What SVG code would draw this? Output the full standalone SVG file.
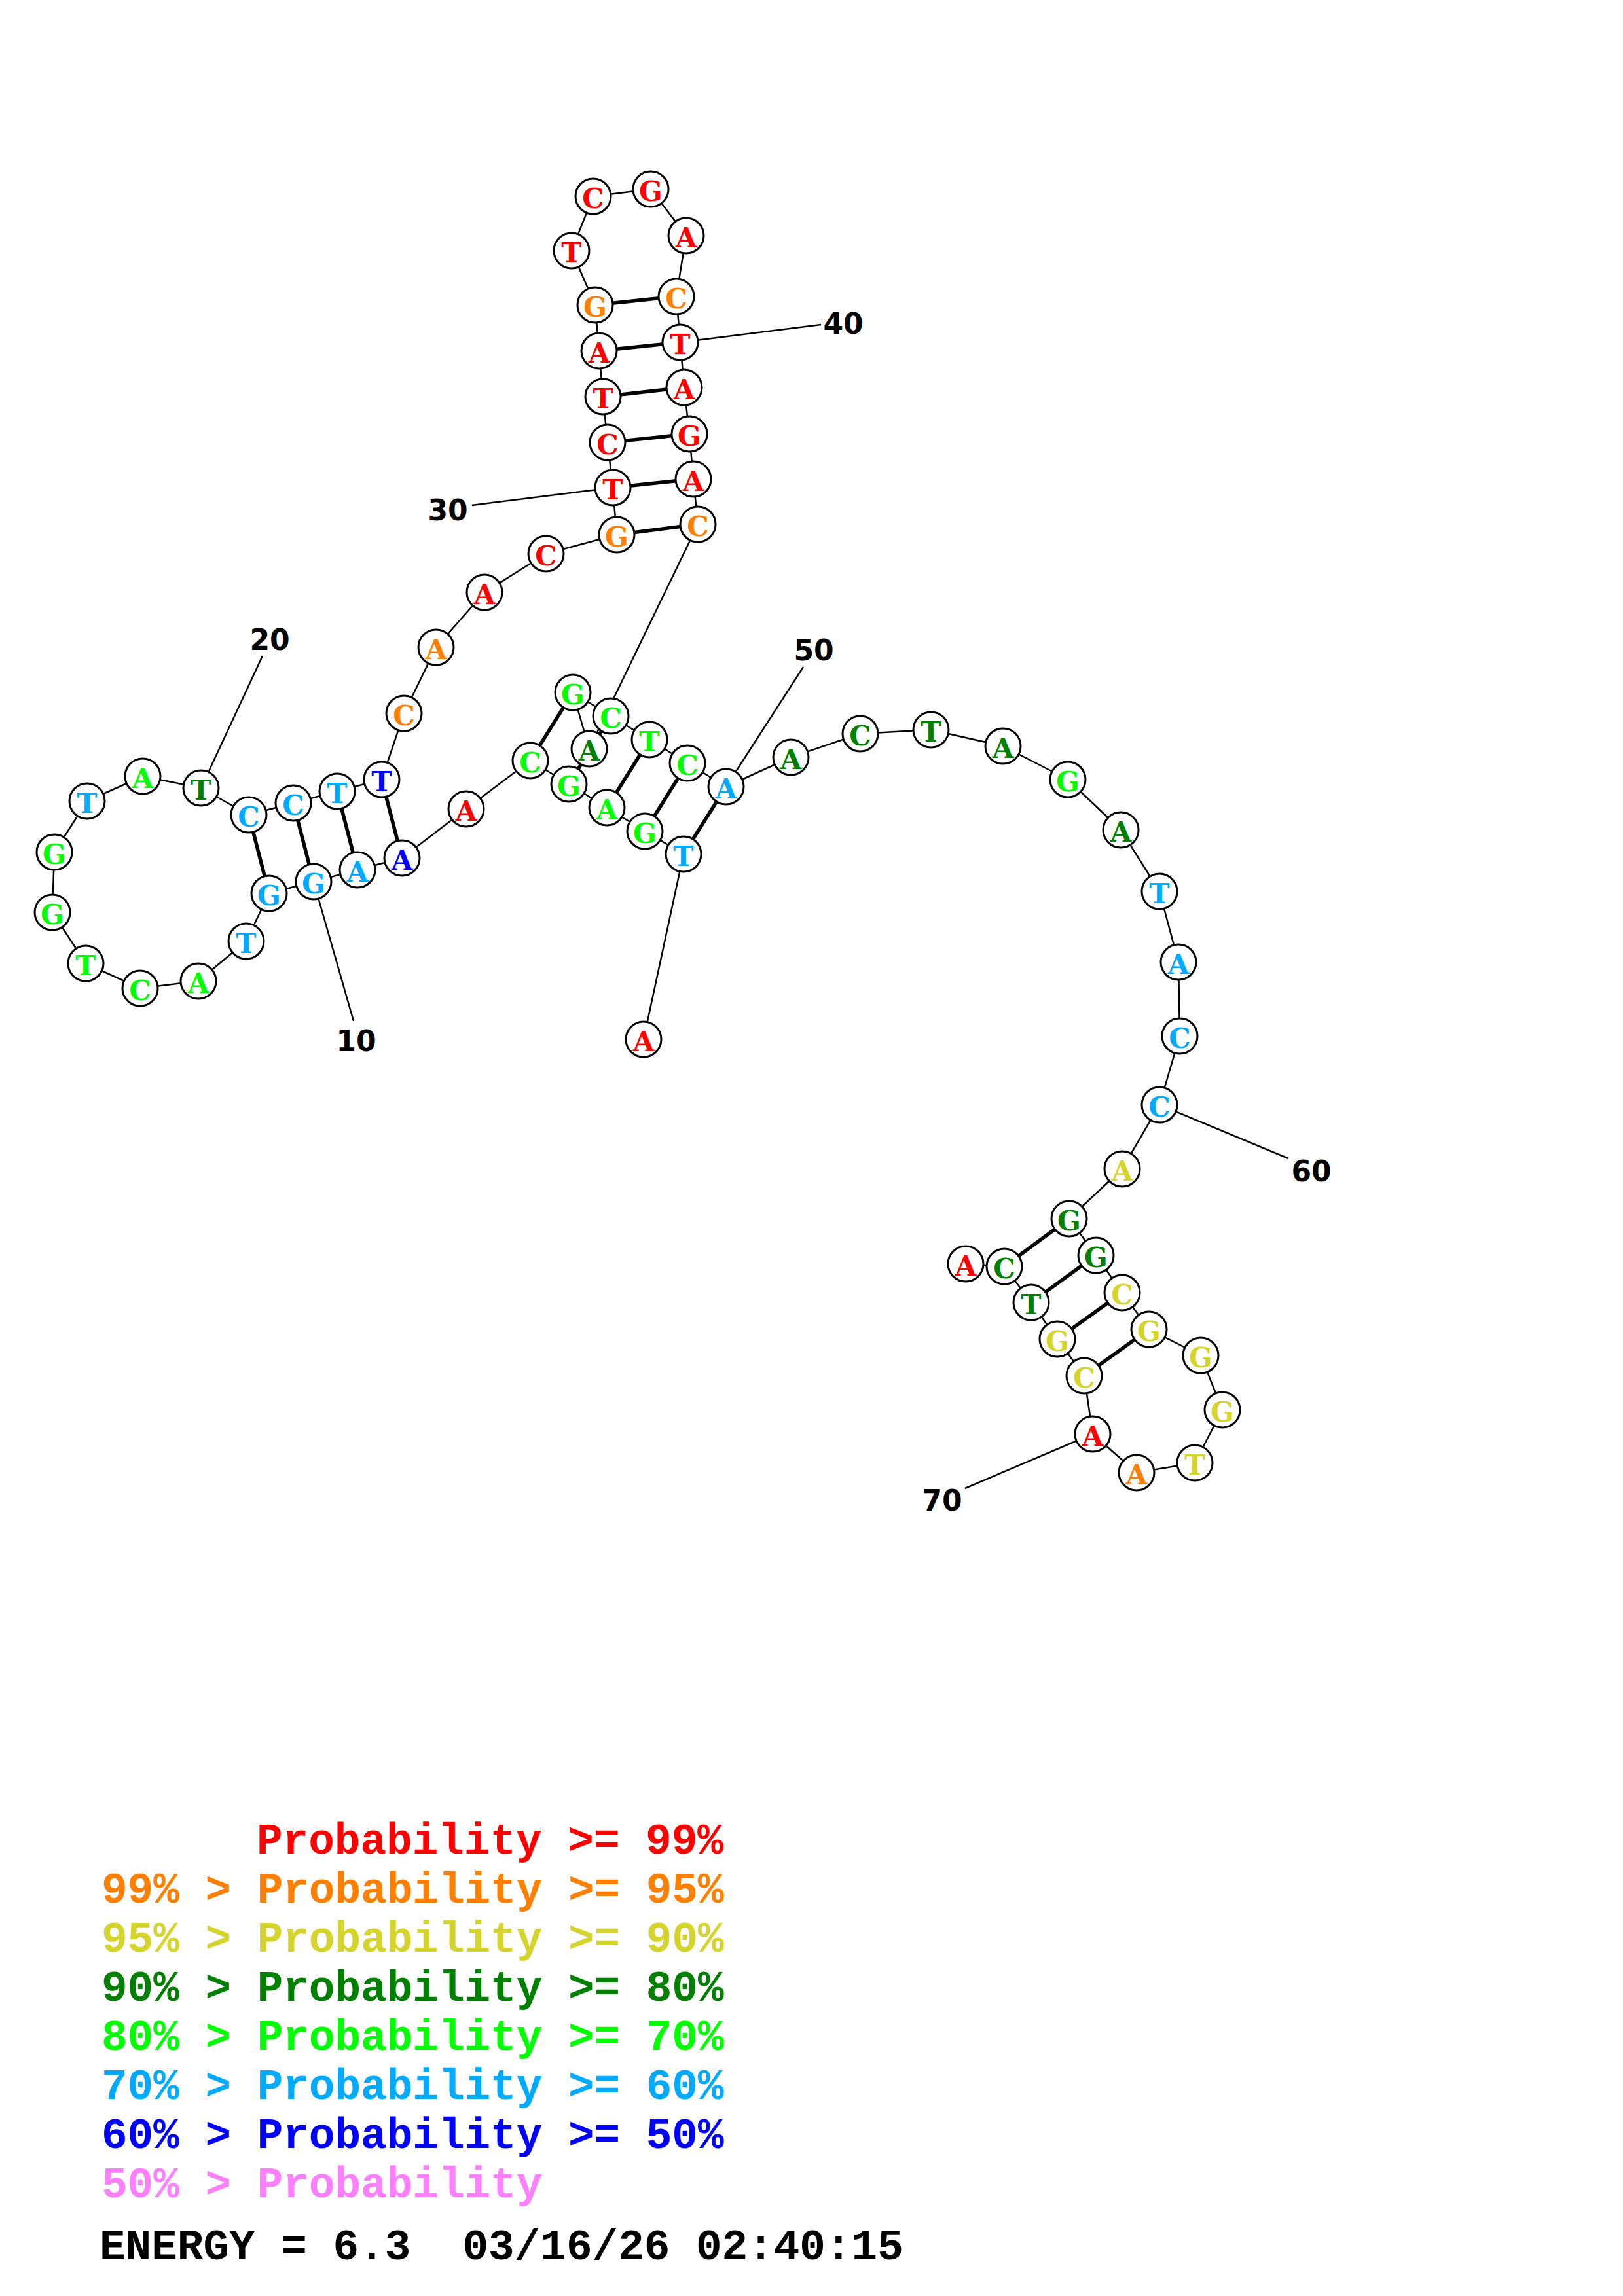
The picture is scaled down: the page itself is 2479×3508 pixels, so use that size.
<svg xmlns="http://www.w3.org/2000/svg" width="2479" height="3508" viewBox="0 0 2479 3508">
<style>
.bb{stroke:#000;stroke-width:2.5;fill:none}
.bp{stroke:#000;stroke-width:5.5;fill:none}
.lb{stroke:#000;stroke-width:2.5;fill:none}
circle{fill:#fff;stroke:#000;stroke-width:3}
.nt{font-family:"DejaVu Serif","Liberation Serif",serif;font-weight:bold;font-size:42px;text-anchor:middle}
.num{font-family:"DejaVu Sans",sans-serif;font-weight:bold;font-size:44px;text-anchor:middle;fill:#000}
.lg{font-family:"Liberation Mono","Courier New",monospace;font-weight:bold;font-size:66px;white-space:pre}
.r{fill:#FF0000}.o{fill:#FF8000}.y{fill:#D4D42C}.dg{fill:#008000}.g{fill:#00FF00}.c{fill:#00AAFF}.b{fill:#0000FF}.p{fill:#FF80FF}.k{fill:#000}
</style>
<g id="connectors">
<g id="backbone" class="bb">
<line x1="983" y1="1588" x2="1044" y2="1305"/>
<line x1="1044" y1="1305" x2="985" y2="1270"/>
<line x1="985" y1="1270" x2="927" y2="1234"/>
<line x1="927" y1="1234" x2="869" y2="1198"/>
<line x1="869" y1="1198" x2="810" y2="1162"/>
<line x1="810" y1="1162" x2="712" y2="1236"/>
<line x1="712" y1="1236" x2="614" y2="1311"/>
<line x1="614" y1="1311" x2="546" y2="1329"/>
<line x1="546" y1="1329" x2="479" y2="1347"/>
<line x1="479" y1="1347" x2="411" y2="1365"/>
<line x1="411" y1="1365" x2="376" y2="1438"/>
<line x1="376" y1="1438" x2="303" y2="1499"/>
<line x1="303" y1="1499" x2="214" y2="1510"/>
<line x1="214" y1="1510" x2="131" y2="1472"/>
<line x1="131" y1="1472" x2="80" y2="1394"/>
<line x1="80" y1="1394" x2="83" y2="1302"/>
<line x1="83" y1="1302" x2="133" y2="1224"/>
<line x1="133" y1="1224" x2="218" y2="1186"/>
<line x1="218" y1="1186" x2="307" y2="1204"/>
<line x1="307" y1="1204" x2="380" y2="1245"/>
<line x1="380" y1="1245" x2="448" y2="1227"/>
<line x1="448" y1="1227" x2="515" y2="1209"/>
<line x1="515" y1="1209" x2="583" y2="1191"/>
<line x1="583" y1="1191" x2="617" y2="1090"/>
<line x1="617" y1="1090" x2="666" y2="989"/>
<line x1="666" y1="989" x2="740" y2="905"/>
<line x1="740" y1="905" x2="834" y2="846"/>
<line x1="834" y1="846" x2="942" y2="817"/>
<line x1="942" y1="817" x2="936" y2="745"/>
<line x1="936" y1="745" x2="928" y2="676"/>
<line x1="928" y1="676" x2="921" y2="606"/>
<line x1="921" y1="606" x2="915" y2="536"/>
<line x1="915" y1="536" x2="909" y2="466"/>
<line x1="909" y1="466" x2="873" y2="383"/>
<line x1="873" y1="383" x2="906" y2="300"/>
<line x1="906" y1="300" x2="994" y2="289"/>
<line x1="994" y1="289" x2="1048" y2="360"/>
<line x1="1048" y1="360" x2="1033" y2="453"/>
<line x1="1033" y1="453" x2="1039" y2="523"/>
<line x1="1039" y1="523" x2="1045" y2="592"/>
<line x1="1045" y1="592" x2="1053" y2="663"/>
<line x1="1053" y1="663" x2="1059" y2="732"/>
<line x1="1059" y1="732" x2="1066" y2="801"/>
<line x1="1066" y1="801" x2="900" y2="1144"/>
<line x1="900" y1="1144" x2="875" y2="1058"/>
<line x1="875" y1="1058" x2="933" y2="1094"/>
<line x1="933" y1="1094" x2="992" y2="1130"/>
<line x1="992" y1="1130" x2="1050" y2="1166"/>
<line x1="1050" y1="1166" x2="1109" y2="1202"/>
<line x1="1109" y1="1202" x2="1208" y2="1157"/>
<line x1="1208" y1="1157" x2="1314" y2="1121"/>
<line x1="1314" y1="1121" x2="1422" y2="1115"/>
<line x1="1422" y1="1115" x2="1532" y2="1140"/>
<line x1="1532" y1="1140" x2="1631" y2="1191"/>
<line x1="1631" y1="1191" x2="1712" y2="1268"/>
<line x1="1712" y1="1268" x2="1771" y2="1362"/>
<line x1="1771" y1="1362" x2="1800" y2="1470"/>
<line x1="1800" y1="1470" x2="1802" y2="1583"/>
<line x1="1802" y1="1583" x2="1771" y2="1688"/>
<line x1="1771" y1="1688" x2="1714" y2="1786"/>
<line x1="1714" y1="1786" x2="1633" y2="1862"/>
<line x1="1633" y1="1862" x2="1674" y2="1918"/>
<line x1="1674" y1="1918" x2="1714" y2="1975"/>
<line x1="1714" y1="1975" x2="1755" y2="2031"/>
<line x1="1755" y1="2031" x2="1834" y2="2071"/>
<line x1="1834" y1="2071" x2="1867" y2="2154"/>
<line x1="1867" y1="2154" x2="1825" y2="2235"/>
<line x1="1825" y1="2235" x2="1736" y2="2250"/>
<line x1="1736" y1="2250" x2="1669" y2="2191"/>
<line x1="1669" y1="2191" x2="1656" y2="2102"/>
<line x1="1656" y1="2102" x2="1615" y2="2046"/>
<line x1="1615" y1="2046" x2="1575" y2="1990"/>
<line x1="1575" y1="1990" x2="1534" y2="1935"/>
<line x1="1534" y1="1935" x2="1475" y2="1931"/>
</g>
<g id="pairs" class="bp">
<line x1="1044" y1="1305" x2="1109" y2="1202"/>
<line x1="985" y1="1270" x2="1050" y2="1166"/>
<line x1="927" y1="1234" x2="992" y2="1130"/>
<line x1="869" y1="1198" x2="933" y2="1094"/>
<line x1="810" y1="1162" x2="875" y2="1058"/>
<line x1="614" y1="1311" x2="583" y2="1191"/>
<line x1="546" y1="1329" x2="515" y2="1209"/>
<line x1="479" y1="1347" x2="448" y2="1227"/>
<line x1="411" y1="1365" x2="380" y2="1245"/>
<line x1="942" y1="817" x2="1066" y2="801"/>
<line x1="936" y1="745" x2="1059" y2="732"/>
<line x1="928" y1="676" x2="1053" y2="663"/>
<line x1="921" y1="606" x2="1045" y2="592"/>
<line x1="915" y1="536" x2="1039" y2="523"/>
<line x1="909" y1="466" x2="1033" y2="453"/>
<line x1="1633" y1="1862" x2="1534" y2="1935"/>
<line x1="1674" y1="1918" x2="1575" y2="1990"/>
<line x1="1714" y1="1975" x2="1615" y2="2046"/>
<line x1="1755" y1="2031" x2="1656" y2="2102"/>
</g>
<g id="label-lines" class="lb">
<line x1="479" y1="1347" x2="540" y2="1560"/>
<line x1="307" y1="1204" x2="401" y2="1002"/>
<line x1="936" y1="745" x2="721" y2="772"/>
<line x1="1039" y1="523" x2="1254" y2="496"/>
<line x1="1109" y1="1202" x2="1227" y2="1019"/>
<line x1="1771" y1="1688" x2="1968" y2="1770"/>
<line x1="1669" y1="2191" x2="1474" y2="2274"/>
</g>
</g>
<g id="nodes">
<g id="n1"><circle cx="983" cy="1588" r="27"/><text class="nt r" x="983" y="1606">A</text></g>
<g id="n2"><circle cx="1044" cy="1305" r="27"/><text class="nt c" x="1044" y="1323">T</text></g>
<g id="n3"><circle cx="985" cy="1270" r="27"/><text class="nt g" x="985" y="1288">G</text></g>
<g id="n4"><circle cx="927" cy="1234" r="27"/><text class="nt g" x="927" y="1252">A</text></g>
<g id="n5"><circle cx="869" cy="1198" r="27"/><text class="nt g" x="869" y="1216">G</text></g>
<g id="n6"><circle cx="810" cy="1162" r="27"/><text class="nt g" x="810" y="1180">C</text></g>
<g id="n7"><circle cx="712" cy="1236" r="27"/><text class="nt r" x="712" y="1254">A</text></g>
<g id="n8"><circle cx="614" cy="1311" r="27"/><text class="nt b" x="614" y="1329">A</text></g>
<g id="n9"><circle cx="546" cy="1329" r="27"/><text class="nt c" x="546" y="1347">A</text></g>
<g id="n10"><circle cx="479" cy="1347" r="27"/><text class="nt c" x="479" y="1365">G</text></g>
<g id="n11"><circle cx="411" cy="1365" r="27"/><text class="nt c" x="411" y="1383">G</text></g>
<g id="n12"><circle cx="376" cy="1438" r="27"/><text class="nt c" x="376" y="1456">T</text></g>
<g id="n13"><circle cx="303" cy="1499" r="27"/><text class="nt g" x="303" y="1517">A</text></g>
<g id="n14"><circle cx="214" cy="1510" r="27"/><text class="nt g" x="214" y="1528">C</text></g>
<g id="n15"><circle cx="131" cy="1472" r="27"/><text class="nt g" x="131" y="1490">T</text></g>
<g id="n16"><circle cx="80" cy="1394" r="27"/><text class="nt g" x="80" y="1412">G</text></g>
<g id="n17"><circle cx="83" cy="1302" r="27"/><text class="nt g" x="83" y="1320">G</text></g>
<g id="n18"><circle cx="133" cy="1224" r="27"/><text class="nt c" x="133" y="1242">T</text></g>
<g id="n19"><circle cx="218" cy="1186" r="27"/><text class="nt g" x="218" y="1204">A</text></g>
<g id="n20"><circle cx="307" cy="1204" r="27"/><text class="nt dg" x="307" y="1222">T</text></g>
<g id="n21"><circle cx="380" cy="1245" r="27"/><text class="nt c" x="380" y="1263">C</text></g>
<g id="n22"><circle cx="448" cy="1227" r="27"/><text class="nt c" x="448" y="1245">C</text></g>
<g id="n23"><circle cx="515" cy="1209" r="27"/><text class="nt c" x="515" y="1227">T</text></g>
<g id="n24"><circle cx="583" cy="1191" r="27"/><text class="nt b" x="583" y="1209">T</text></g>
<g id="n25"><circle cx="617" cy="1090" r="27"/><text class="nt o" x="617" y="1108">C</text></g>
<g id="n26"><circle cx="666" cy="989" r="27"/><text class="nt o" x="666" y="1007">A</text></g>
<g id="n27"><circle cx="740" cy="905" r="27"/><text class="nt r" x="740" y="923">A</text></g>
<g id="n28"><circle cx="834" cy="846" r="27"/><text class="nt r" x="834" y="864">C</text></g>
<g id="n29"><circle cx="942" cy="817" r="27"/><text class="nt o" x="942" y="835">G</text></g>
<g id="n30"><circle cx="936" cy="745" r="27"/><text class="nt r" x="936" y="763">T</text></g>
<g id="n31"><circle cx="928" cy="676" r="27"/><text class="nt r" x="928" y="694">C</text></g>
<g id="n32"><circle cx="921" cy="606" r="27"/><text class="nt r" x="921" y="624">T</text></g>
<g id="n33"><circle cx="915" cy="536" r="27"/><text class="nt r" x="915" y="554">A</text></g>
<g id="n34"><circle cx="909" cy="466" r="27"/><text class="nt o" x="909" y="484">G</text></g>
<g id="n35"><circle cx="873" cy="383" r="27"/><text class="nt r" x="873" y="401">T</text></g>
<g id="n36"><circle cx="906" cy="300" r="27"/><text class="nt r" x="906" y="318">C</text></g>
<g id="n37"><circle cx="994" cy="289" r="27"/><text class="nt r" x="994" y="307">G</text></g>
<g id="n38"><circle cx="1048" cy="360" r="27"/><text class="nt r" x="1048" y="378">A</text></g>
<g id="n39"><circle cx="1033" cy="453" r="27"/><text class="nt o" x="1033" y="471">C</text></g>
<g id="n40"><circle cx="1039" cy="523" r="27"/><text class="nt r" x="1039" y="541">T</text></g>
<g id="n41"><circle cx="1045" cy="592" r="27"/><text class="nt r" x="1045" y="610">A</text></g>
<g id="n42"><circle cx="1053" cy="663" r="27"/><text class="nt r" x="1053" y="681">G</text></g>
<g id="n43"><circle cx="1059" cy="732" r="27"/><text class="nt r" x="1059" y="750">A</text></g>
<g id="n44"><circle cx="1066" cy="801" r="27"/><text class="nt o" x="1066" y="819">C</text></g>
<g id="n45"><circle cx="900" cy="1144" r="27"/><text class="nt dg" x="900" y="1162">A</text></g>
<g id="n46"><circle cx="875" cy="1058" r="27"/><text class="nt g" x="875" y="1076">G</text></g>
<g id="n47"><circle cx="933" cy="1094" r="27"/><text class="nt g" x="933" y="1112">C</text></g>
<g id="n48"><circle cx="992" cy="1130" r="27"/><text class="nt g" x="992" y="1148">T</text></g>
<g id="n49"><circle cx="1050" cy="1166" r="27"/><text class="nt g" x="1050" y="1184">C</text></g>
<g id="n50"><circle cx="1109" cy="1202" r="27"/><text class="nt c" x="1109" y="1220">A</text></g>
<g id="n51"><circle cx="1208" cy="1157" r="27"/><text class="nt dg" x="1208" y="1175">A</text></g>
<g id="n52"><circle cx="1314" cy="1121" r="27"/><text class="nt dg" x="1314" y="1139">C</text></g>
<g id="n53"><circle cx="1422" cy="1115" r="27"/><text class="nt dg" x="1422" y="1133">T</text></g>
<g id="n54"><circle cx="1532" cy="1140" r="27"/><text class="nt dg" x="1532" y="1158">A</text></g>
<g id="n55"><circle cx="1631" cy="1191" r="27"/><text class="nt g" x="1631" y="1209">G</text></g>
<g id="n56"><circle cx="1712" cy="1268" r="27"/><text class="nt dg" x="1712" y="1286">A</text></g>
<g id="n57"><circle cx="1771" cy="1362" r="27"/><text class="nt c" x="1771" y="1380">T</text></g>
<g id="n58"><circle cx="1800" cy="1470" r="27"/><text class="nt c" x="1800" y="1488">A</text></g>
<g id="n59"><circle cx="1802" cy="1583" r="27"/><text class="nt c" x="1802" y="1601">C</text></g>
<g id="n60"><circle cx="1771" cy="1688" r="27"/><text class="nt c" x="1771" y="1706">C</text></g>
<g id="n61"><circle cx="1714" cy="1786" r="27"/><text class="nt y" x="1714" y="1804">A</text></g>
<g id="n62"><circle cx="1633" cy="1862" r="27"/><text class="nt dg" x="1633" y="1880">G</text></g>
<g id="n63"><circle cx="1674" cy="1918" r="27"/><text class="nt dg" x="1674" y="1936">G</text></g>
<g id="n64"><circle cx="1714" cy="1975" r="27"/><text class="nt y" x="1714" y="1993">C</text></g>
<g id="n65"><circle cx="1755" cy="2031" r="27"/><text class="nt y" x="1755" y="2049">G</text></g>
<g id="n66"><circle cx="1834" cy="2071" r="27"/><text class="nt y" x="1834" y="2089">G</text></g>
<g id="n67"><circle cx="1867" cy="2154" r="27"/><text class="nt y" x="1867" y="2172">G</text></g>
<g id="n68"><circle cx="1825" cy="2235" r="27"/><text class="nt y" x="1825" y="2253">T</text></g>
<g id="n69"><circle cx="1736" cy="2250" r="27"/><text class="nt o" x="1736" y="2268">A</text></g>
<g id="n70"><circle cx="1669" cy="2191" r="27"/><text class="nt r" x="1669" y="2209">A</text></g>
<g id="n71"><circle cx="1656" cy="2102" r="27"/><text class="nt y" x="1656" y="2120">C</text></g>
<g id="n72"><circle cx="1615" cy="2046" r="27"/><text class="nt y" x="1615" y="2064">G</text></g>
<g id="n73"><circle cx="1575" cy="1990" r="27"/><text class="nt dg" x="1575" y="2008">T</text></g>
<g id="n74"><circle cx="1534" cy="1935" r="27"/><text class="nt dg" x="1534" y="1953">C</text></g>
<g id="n75"><circle cx="1475" cy="1931" r="27"/><text class="nt r" x="1475" y="1949">A</text></g>
</g>
<g id="numbers">
<text class="num" x="544" y="1606">10</text>
<text class="num" x="412" y="993">20</text>
<text class="num" x="684" y="795">30</text>
<text class="num" x="1288" y="510">40</text>
<text class="num" x="1243" y="1009">50</text>
<text class="num" x="2003" y="1805">60</text>
<text class="num" x="1439" y="2308">70</text>
</g>
<g id="legend">
<text class="lg r" x="392" y="2832">Probability &gt;= 99%</text>
<text class="lg o" x="155" y="2907">99% &gt; Probability &gt;= 95%</text>
<text class="lg y" x="155" y="2982">95% &gt; Probability &gt;= 90%</text>
<text class="lg dg" x="155" y="3057">90% &gt; Probability &gt;= 80%</text>
<text class="lg g" x="155" y="3132">80% &gt; Probability &gt;= 70%</text>
<text class="lg c" x="155" y="3207">70% &gt; Probability &gt;= 60%</text>
<text class="lg b" x="155" y="3282">60% &gt; Probability &gt;= 50%</text>
<text class="lg p" x="155" y="3357">50% &gt; Probability</text>
<text class="lg k" x="152" y="3452">ENERGY = 6.3  03/16/26 02:40:15</text>
</g>
</svg>
